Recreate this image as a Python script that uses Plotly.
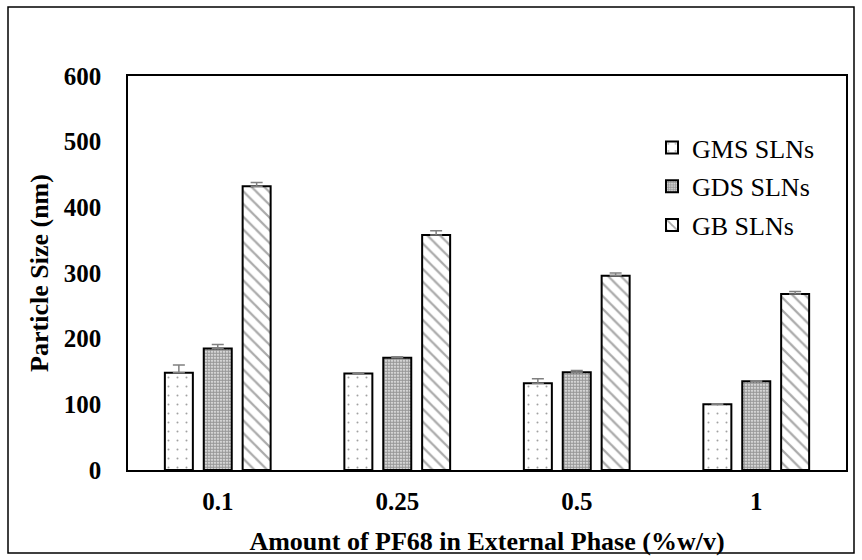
import plotly.graph_objects as go

# PF68 concentrations in the external phase (%w/v)
categories = ["0.1", "0.25", "0.5", "1"]

# Mean particle size (nm) and upper error for each lipid type
gms_size = [148, 147, 132, 100]
gms_err = [12, 1, 7, 1]
gds_size = [185, 171, 149, 135]
gds_err = [6, 1.5, 2.5, 1]
gb_size = [432, 358, 296, 268]
gb_err = [6, 6.5, 4, 4]

series_names = ["GMS SLNs", "GDS SLNs", "GB SLNs"]
y_ticks = [0, 100, 200, 300, 400, 500, 600]

SERIF = "Liberation Serif, Times New Roman, serif"

# plot-area geometry in pixels
W, H = 862, 560
L, R, T, B = 128, 16, 76, 90
pw, ph = W - L - R, H - T - B


def px_to_paper_x(px):
    return (px - L) / pw


def px_to_paper_y(py):
    return (H - B - py) / ph


patterns = [
    dict(shape=".", size=9, solidity=0.04, fgcolor="#444444", bgcolor="white"),
    dict(shape=".", size=3, solidity=0.75, fgcolor="#333333", bgcolor="white"),
    dict(shape="\\", size=9, solidity=0.25, fgcolor="#555555", bgcolor="white"),
]

values = [gms_size, gds_size, gb_size]
errors = [gms_err, gds_err, gb_err]

fig = go.Figure()
for i, (name, vals, errs, pat) in enumerate(zip(series_names, values, errors, patterns)):
    fig.add_trace(go.Bar(
        x=categories,
        y=vals,
        name=name,
        legendgroup=f"g{i}",
        marker=dict(color="white", pattern=pat,
                    line=dict(color="black", width=2)),
        error_y=dict(type="data", symmetric=False, array=errs,
                     arrayminus=[0] * len(errs),
                     color="#808080", thickness=1.5, width=6),
    ))

fig.update_layout(
    width=W, height=H,
    margin=dict(l=L, r=R, t=T, b=B, autoexpand=False),
    paper_bgcolor="white", plot_bgcolor="white",
    barmode="group", bargap=0.35, bargroupgap=0.28,
    font=dict(family=SERIF, color="black"),
    legend=dict(
        x=px_to_paper_x(652), y=px_to_paper_y(124),
        xanchor="left", yanchor="top",
        font=dict(family=SERIF, size=26, color="black"),
        bgcolor="rgba(0,0,0,0)",
        tracegroupgap=2,
    ),
    shapes=[dict(
        type="rect", xref="paper", yref="paper",
        x0=px_to_paper_x(8), x1=px_to_paper_x(854),
        y0=px_to_paper_y(553), y1=px_to_paper_y(7),
        line=dict(color="black", width=1.5), fillcolor="rgba(0,0,0,0)",
        layer="below",
    )],
)

fig.update_xaxes(
    type="category",
    showline=True, mirror=True, linecolor="black", linewidth=1.5,
    showgrid=False, ticks="", ticklabelstandoff=8,
    tickfont=dict(family=SERIF, size=25, color="black", weight="bold"),
    title=dict(text="Amount of PF68 in External Phase (%w/v)",
               font=dict(family=SERIF, size=26, color="black", weight="bold"),
               standoff=18),
)
fig.update_yaxes(
    range=[0, 600], tickvals=y_ticks,
    showline=True, mirror=True, linecolor="black", linewidth=1.5,
    showgrid=False, zeroline=False, ticks="", ticklabelstandoff=20,
    tickfont=dict(family=SERIF, size=25, color="black", weight="bold"),
    title=dict(text="Particle Size (nm)",
               font=dict(family=SERIF, size=26, color="black", weight="bold"),
               standoff=8),
)

fig.write_html("out.html")
